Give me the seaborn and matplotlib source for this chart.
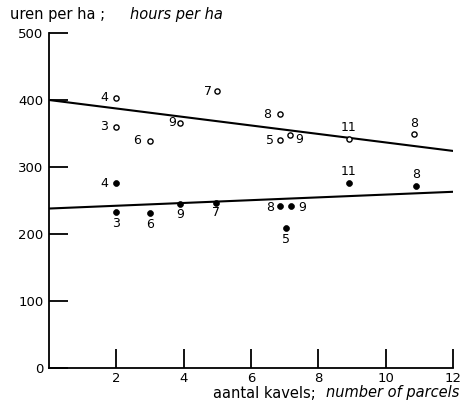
import matplotlib
matplotlib.use("Agg")
import matplotlib.pyplot as plt
import seaborn as sns
import pandas as pd

# ---- data ----
open_x = [2, 2, 3, 3.9, 5, 6.85, 6.85, 7.15, 8.9, 10.85]
open_y = [403, 360, 339, 366, 413, 379, 340, 348, 342, 349]
open_lab = ["4", "3", "6", "9", "7", "8", "5", "9", "11", "8"]

fill_x = [2, 2, 3, 3.9, 4.95, 6.85, 7.2, 7.05, 8.9, 10.9]
fill_y = [276, 233, 231, 245, 246, 242, 242, 209, 276, 272]
fill_lab = ["4", "3", "6", "9", "7", "8", "9", "5", "11", "8"]

line_x = [0, 12]
upper_line = [400, 324]
lower_line = [238, 263]

x_ticks = [2, 4, 6, 8, 10, 12]
y_ticks = [0, 100, 200, 300, 400, 500]

# label offsets (points) -- styling
open_off = [(-9, 0), (-9, 0), (-9, 0), (-6, 0), (-7, 0), (-9, 0), (-7, 0), (7, -3), (0, 8), (0, 8)]
fill_off = [(-9, 0), (0, -8), (0, -8), (0, -8), (0, -7), (-7, -1), (8, -1), (0, -8), (0, 8), (0, 8)]

sns.set_style("ticks")
plt.rcParams["font.family"] = ["DejaVu Sans"]
plt.rcParams["text.color"] = "black"
plt.rcParams["axes.labelcolor"] = "black"
plt.rcParams["xtick.color"] = "black"
plt.rcParams["ytick.color"] = "black"

fig = plt.figure(figsize=(4.64, 4.08), dpi=100)
ax = fig.add_axes([49 / 464, 40 / 408, 404 / 464, 335 / 408])

df_open = pd.DataFrame({"x": open_x, "y": open_y})
df_fill = pd.DataFrame({"x": fill_x, "y": fill_y})

sns.lineplot(x=line_x, y=upper_line, color="black", linewidth=1.5, ax=ax)
sns.lineplot(x=line_x, y=lower_line, color="black", linewidth=1.5, ax=ax)
sns.scatterplot(data=df_open, x="x", y="y", marker="o", s=14, facecolor="white",
                edgecolor="black", linewidth=1.0, ax=ax, zorder=3)
sns.scatterplot(data=df_fill, x="x", y="y", marker="o", s=18, color="black",
                edgecolor="black", linewidth=0.5, ax=ax, zorder=3)

for x, y, t, (dx, dy) in zip(open_x, open_y, open_lab, open_off):
    ax.annotate(t, (x, y), xytext=(dx, dy), textcoords="offset points",
                ha="center", va="center", fontsize=9, color="black")
for x, y, t, (dx, dy) in zip(fill_x, fill_y, fill_lab, fill_off):
    ax.annotate(t, (x, y), xytext=(dx, dy), textcoords="offset points",
                ha="center", va="center", fontsize=9, color="black")

ax.set_xlim(0, 12)
ax.set_ylim(0, 500)
ax.set_xticks(x_ticks)
ax.set_yticks(y_ticks)
ax.set_xticklabels([str(v) for v in x_ticks])
ax.set_yticklabels([str(v) for v in y_ticks])
ax.tick_params(axis="both", direction="in", length=14, width=1.3, labelsize=9.5,
               color="black", labelcolor="black")
ax.tick_params(axis="y", pad=4)
ax.tick_params(axis="x", pad=3)
for side in ["top", "right"]:
    ax.spines[side].set_visible(False)
for side in ["left", "bottom"]:
    ax.spines[side].set_linewidth(1.3)
    ax.spines[side].set_color("black")
ax.set_xlabel("")
ax.set_ylabel("")

fig.text(10 / 464, 1 - 14 / 408, "uren per ha ;", fontsize=10.5, va="center", ha="left", color="black")
fig.text(130 / 464, 1 - 14 / 408, "hours per ha", fontsize=10.5, style="italic", va="center", ha="left", color="black")
fig.text(316 / 464, 1 - 393 / 408, "aantal kavels;", fontsize=10.5, va="center", ha="right", color="black")
fig.text(459 / 464, 1 - 393 / 408, "number of parcels", fontsize=10.5, style="italic", va="center", ha="right", color="black")

fig.savefig("out.png", dpi=100, facecolor="white")
